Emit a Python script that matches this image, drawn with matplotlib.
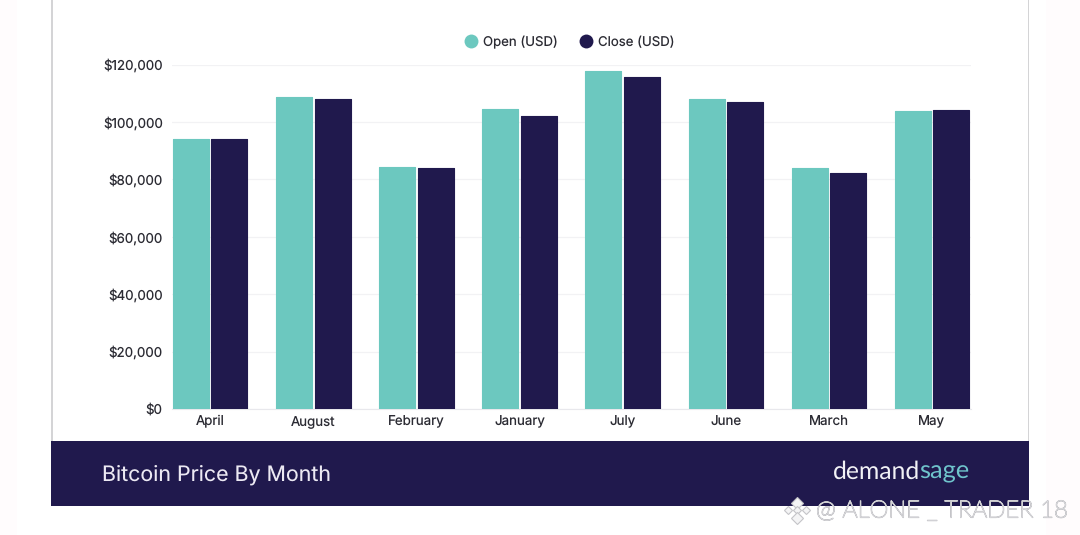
import matplotlib
matplotlib.use('Agg')
import matplotlib.pyplot as plt
import matplotlib.patheffects as pe
from matplotlib.lines import Line2D
from matplotlib.patches import Rectangle
import numpy as np

months = ['April', 'August', 'February', 'January', 'July', 'June', 'March', 'May']
open_usd = [94100, 108700, 84300, 104500, 117600, 108100, 84100, 103800]
close_usd = [94000, 108100, 84100, 102100, 115500, 106900, 82300, 104300]
y_ticks = [0, 20000, 40000, 60000, 80000, 100000, 120000]

TEAL = '#6cc8bf'
NAVY = '#20194d'
W, H = 1080, 535

plt.rcParams['font.family'] = ['Inter', 'DejaVu Sans']
plt.rcParams['text.hinting'] = 'no_hinting'
plt.rcParams['ytick.alignment'] = 'center_baseline'
fig = plt.figure(figsize=(W / 100, H / 100), dpi=100, facecolor='white')


# pixel coordinates (origin top left) -> figure fraction
def fx(x):
    return x / W


def fy(y):
    return 1 - y / H


def px_rect(x0, y0, x1, y1, color, z=0):
    fig.add_artist(Rectangle((fx(x0), fy(y1)), (x1 - x0) / W, (y1 - y0) / H,
                             transform=fig.transFigure, facecolor=color,
                             edgecolor='none', zorder=z))


# faint page strips and card borders
px_rect(0, 0, 17, H, '#fffcfd')
px_rect(1046, 0, W, H, '#fffcfd')
px_rect(51, 0, 53, 441, '#d4d4d6')
px_rect(1027.5, 0, 1029, 441, '#d4d4d6')
# footer banner
px_rect(51, 441, 1029, 505.5, NAVY, 1)

# --- Chart ---
ax = fig.add_axes([fx(172), fy(409), (971 - 172) / W, (409 - 64.5) / H])
ax.set_facecolor('none')
x = np.arange(len(months))
slot = 103.1
width = 36 / slot
offset = 19.2 / slot
center0 = 210.2
for vals, col, lab, sign in [(open_usd, TEAL, 'Open (USD)', -1), (close_usd, NAVY, 'Close (USD)', 1)]:
    bars = ax.bar(x + sign * offset, vals, width, color=col, zorder=3,
                  edgecolor=col, linewidth=0.8, label=lab)
    for b in bars:
        b.set_joinstyle('round')

ax.set_xlim(-(center0 - 172) / slot, (971 - center0) / slot)
ax.set_ylim(0, 120000)
ax.set_xticks(x)
ax.set_xticklabels(months, va='baseline')
ax.set_yticks(y_ticks)
ax.set_yticklabels([f'${v:,}' for v in y_ticks])
ax.tick_params(axis='both', length=0, labelsize=9.6, labelcolor='#2b2b33')
ax.tick_params(axis='x', pad=12)
ax.tick_params(axis='y', pad=6.6)
ax.grid(axis='y', color='#f2f2f4', linewidth=0.9, zorder=0)
ax.set_axisbelow(True)
for side in ['top', 'right', 'left']:
    ax.spines[side].set_visible(False)
ax.spines['bottom'].set_color('#e8e8ec')
ax.spines['bottom'].set_linewidth(0.8)

# legend
fig.add_artist(Line2D([fx(471)], [fy(41)], marker='o', markersize=10, markeredgewidth=0, color=TEAL,
                      linestyle='none', transform=fig.transFigure))
fig.text(fx(483), fy(41), 'Open (USD)', fontsize=9.5, color='#2b2b33', va='center_baseline')
fig.add_artist(Line2D([fx(586)], [fy(41)], marker='o', markersize=10, markeredgewidth=0, color=NAVY,
                      linestyle='none', transform=fig.transFigure))
fig.text(fx(598), fy(41), 'Close (USD)', fontsize=9.5, color='#2b2b33', va='center_baseline')

# --- Footer text ---
fig.text(fx(102.5), fy(475), 'Bitcoin Price By Month', fontsize=15.4, color='#ece9f3',
         va='center', zorder=5)
fig.text(fx(833), fy(472), 'demand', fontsize=17.8, color='#f2f2f6', family='Lato',
         va='center', zorder=5)
fig.text(fx(919), fy(472), 'sage', fontsize=18.3, color='#6fc4cc', family='Lato',
         va='center', zorder=5)

# --- Watermark ---
halo = [pe.withStroke(linewidth=0.9, foreground='#c4c4c8')]
fig.text(fx(816), fy(511), '@ ALONE _ TRADER 18', fontsize=17.2, color='#f9f9fa',
         family='Lato', fontweight='light', va='center', zorder=6, path_effects=halo)
for dx, dy, size in [(797, 503, 6), (788, 510, 4), (806, 510, 4), (797, 510, 4), (797, 518, 6)]:
    fig.add_artist(Line2D([fx(dx)], [fy(dy)], marker='D', markersize=size, linestyle='none',
                          markerfacecolor='#f4f4f5', markeredgecolor='#c4c4c8',
                          markeredgewidth=0.8, transform=fig.transFigure, zorder=6))

fig.savefig('out.png', dpi=100)
